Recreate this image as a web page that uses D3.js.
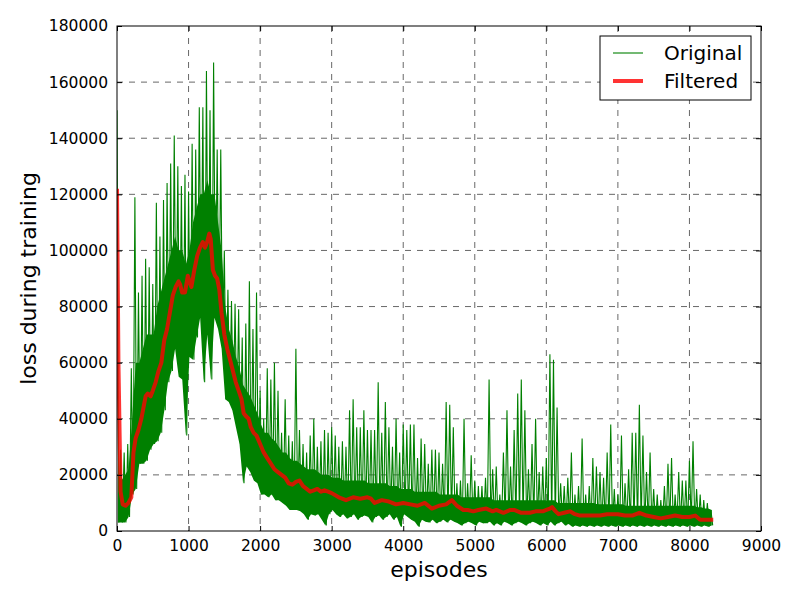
<!DOCTYPE html>
<html>
<head>
<meta charset="utf-8">
<script src="https://cdn.jsdelivr.net/npm/d3@7"></script>
<style>
body { margin: 0; background: #fff; }
text { font-family: "DejaVu Sans", sans-serif; }
</style>
</head>
<body>
<div id="chart"></div>
<script>
// episode bins, 50 episodes wide
var binStart = d3.range(0, 8301, 50);
// highest loss inside each bin (thousands)
var origHigh = [150, 29, 28, 31, 58, 119, 85, 91, 97, 94, 88, 117, 105, 118, 124, 131, 141, 130, 123, 127,
    121, 138, 136, 151, 151, 164, 150, 167, 136, 136, 100, 86, 82, 81, 79, 69, 74, 89, 72, 85,
    50, 40, 58, 54, 60, 50, 35, 47, 34, 32, 65, 36, 31, 28, 34, 40, 30, 32, 36, 35,
    37, 34, 30, 32, 30, 43, 47, 37, 37, 43, 36, 36, 36, 53, 35, 46, 37, 30, 40, 28,
    38, 36, 38, 38, 26, 33, 31, 24, 29, 29, 28, 24, 46, 45, 37, 17, 18, 40, 17, 27,
    18, 16, 16, 19, 54, 22, 23, 13, 28, 43, 23, 36, 49, 54, 43, 22, 31, 40, 21, 23,
    26, 63, 61, 44, 17, 16, 19, 28, 13, 16, 33, 13, 16, 26, 23, 21, 19, 28, 38, 15,
    13, 34, 17, 22, 35, 35, 45, 34, 21, 28, 15, 13, 11, 16, 24, 26, 13, 21, 18, 18,
    25, 32, 15, 13, 11, 10, 7.5];
// top of the dense part of each bin (thousands)
var origBand = [20, 18, 20, 22, 40, 60, 60, 65, 70, 70, 70, 80, 85, 90, 95, 100, 105, 100, 100, 95,
    100, 110, 115, 120, 120, 125, 120, 120, 110, 100, 80, 72, 68, 62, 58, 52, 50, 48, 45, 42,
    38, 35, 35, 33, 32, 30, 28, 28, 26, 25, 25, 24, 23, 22, 22, 22, 21, 20, 20, 20,
    19, 19, 19, 18, 18, 18, 18, 18, 18, 18, 17, 17, 17, 17, 17, 17, 16, 16, 16, 15,
    15, 15, 15, 14, 14, 14, 14, 14, 14, 14, 13, 13, 13, 13, 13, 13, 12, 12, 12, 12,
    12, 12, 12, 12, 12, 11, 11, 11, 11, 11, 11, 11, 11, 11, 11, 11, 11, 11, 11, 11,
    11, 11, 11, 10, 10, 10, 10, 10, 10, 10, 10, 10, 10, 10, 9.5, 9.5, 9.5, 9.5, 9.5, 9.5,
    9.5, 9.5, 9, 9, 9, 9, 9, 9, 9, 9, 9, 9, 9, 9, 9, 9, 9, 9, 9, 9,
    9, 9, 8.5, 8.5, 8, 8, 7.5];
// lowest loss inside each bin (thousands)
var origLow = [3, 3, 3, 5, 13, 15, 24, 24, 25, 29, 31, 32, 35, 43, 53, 57, 65, 55, 54, 34,
    62, 61, 69, 76, 53, 70, 54, 76, 72, 65, 47, 46, 43, 37, 31, 17, 23, 21, 18, 17,
    13, 13, 12, 13, 11, 11, 10, 9, 7.5, 7.5, 7.5, 7, 6, 4, 6, 5.5, 6, 4, 2, 6,
    7.5, 6, 5, 6, 4.5, 5, 6, 4, 5, 5.5, 5, 3, 5, 5.5, 4, 5, 6, 4, 5, 1.5,
    6, 5, 4, 3.3, 1.5, 4, 3.3, 3, 4, 2.8, 3.3, 4, 3, 4, 3.3, 2.8, 2, 2.8, 3.3, 2.8,
    2, 3.3, 2.8, 2.8, 3.3, 2, 2.8, 2, 3.3, 2.8, 2, 2.8, 3.3, 2.8, 2, 2.8, 3.3, 2.8, 2, 2.8,
    2, 3.3, 2, 2.8, 3.3, 2, 2.5, 1.5, 2, 1.5, 2, 1.5, 2, 1.5, 2, 1.5, 2, 1.5, 2, 1.5,
    2, 1.5, 2, 1.5, 2, 1.5, 2, 1.5, 2, 1.5, 2, 1.5, 2, 1.5, 2, 1.5, 2, 1.5, 2, 1.5,
    2, 1.5, 2, 1.5, 2, 1.5, 2];
// filtered curve
var filtEp = [0, 20, 50, 80, 120, 160, 200, 230, 260, 300, 340, 370, 400, 430, 470, 500, 540, 580, 620, 660,
    700, 740, 780, 820, 860, 880, 910, 950, 990, 1010, 1040, 1080, 1120, 1160, 1200, 1230, 1260, 1290, 1310, 1340,
    1370, 1400, 1430, 1460, 1500, 1540, 1580, 1620, 1660, 1700, 1740, 1770, 1800, 1840, 1870, 1910, 1950, 2000, 2050, 2100,
    2150, 2200, 2250, 2300, 2350, 2400, 2450, 2500, 2550, 2600, 2650, 2700, 2750, 2800, 2850, 2900, 2950, 3000, 3100, 3200,
    3300, 3400, 3500, 3550, 3600, 3700, 3800, 3900, 4000, 4100, 4200, 4300, 4400, 4500, 4600, 4680, 4750, 4840, 4900, 4980,
    5050, 5160, 5250, 5300, 5400, 5500, 5550, 5650, 5770, 5850, 5950, 6000, 6050, 6080, 6130, 6170, 6250, 6330, 6400, 6470,
    6550, 6650, 6750, 6850, 7000, 7100, 7200, 7300, 7400, 7500, 7600, 7700, 7800, 7900, 8000, 8080, 8150, 8250, 8333];
var filtVal = [122, 60, 14, 9.5, 9, 10, 12, 28, 33, 36, 40, 44, 48, 49, 48, 50, 53, 57, 60, 68,
    72, 78, 84, 87, 89, 88, 85, 85, 91, 89, 87, 93, 98, 101, 103, 101, 103, 106, 104, 93,
    91, 90, 86, 78, 70, 65, 61, 57, 53, 50, 47, 42, 41, 40, 37, 35, 34, 31, 28, 26,
    24, 22, 21, 20, 19, 17, 16.5, 17.5, 18, 16, 15, 14, 14.5, 15, 14, 14.5, 14, 13.5, 12, 11,
    12, 11.5, 12, 11.5, 10, 11, 10.5, 9.5, 10, 9.5, 9, 10, 8, 9, 9.5, 11, 9, 7.5, 7.5, 7,
    7.5, 8, 7, 7.5, 6.5, 7.5, 7.5, 6.5, 6.5, 7, 7, 7.5, 8, 8.5, 7, 6, 6.5, 7, 6, 5.5,
    5.5, 5.5, 5.5, 6, 6, 5.5, 5.5, 6.5, 5.5, 5, 4.5, 5, 5.5, 5, 5, 5.5, 4, 4, 4];
var xTicks = d3.range(0, 9001, 1000);
var yTicks = d3.range(0, 180001, 20000);

var W = 800, H = 600;
var margin = { left: 117, top: 26, right: 39, bottom: 69 };
var iw = W - margin.left - margin.right, ih = H - margin.top - margin.bottom;

var svg = d3.select('#chart').append('svg').attr('width', W).attr('height', H);
var g = svg.append('g').attr('transform', 'translate(' + margin.left + ',' + margin.top + ')');

var x = d3.scaleLinear().domain([0, 9000]).range([0, iw]);
var y = d3.scaleLinear().domain([0, 180000]).range([ih, 0]);

g.append('defs').append('clipPath').attr('id', 'clip')
    .append('rect').attr('width', iw).attr('height', ih);

// grid
g.append('g').selectAll('line').data(xTicks.slice(1, -1)).enter().append('line')
    .attr('x1', x).attr('x2', x).attr('y1', 0).attr('y2', ih)
    .style('stroke', '#000').style('stroke-dasharray', '6,6').style('stroke-width', 0.6);
g.append('g').selectAll('line').data(yTicks.slice(1, -1)).enter().append('line')
    .attr('y1', y).attr('y2', y).attr('x1', 0).attr('x2', iw)
    .style('stroke', '#000').style('stroke-dasharray', '6,6').style('stroke-width', 0.6);

// original series: dense part as an area, then max and min of each bin as a line
var bins = binStart.map(function (e, i) {
    return { e: Math.min(e + 12, 8333), hi: origHigh[i] * 1000, band: origBand[i] * 1000, lo: origLow[i] * 1000 };
});
var orig = [];
binStart.forEach(function (e, i) {
    orig.push([e, origHigh[i] * 1000]);
    orig.push([Math.min(e + 25, 8333), origLow[i] * 1000]);
});
var line = d3.line().x(function (d) { return x(d[0]); }).y(function (d) { return y(d[1]); });
var area = d3.area().x(function (d) { return x(d.e); })
    .y0(function (d) { return y(d.lo); }).y1(function (d) { return y(d.band); });

var plot = g.append('g').attr('clip-path', 'url(#clip)');
plot.append('path').datum(bins).attr('d', area).style('fill', 'green');
plot.append('path').datum(orig).attr('d', line)
    .style('fill', 'none').style('stroke', 'green').style('stroke-width', 1.1);
plot.append('path').datum(filtEp.map(function (e, i) { return [e, filtVal[i] * 1000]; })).attr('d', line)
    .style('fill', 'none').style('stroke', 'red').style('stroke-opacity', 0.8)
    .style('stroke-width', 4).style('stroke-linejoin', 'round');

// axes, ticks inward on all sides
var ax = [
    { a: d3.axisBottom(x).tickValues(xTicks).tickFormat(d3.format('d')), t: 'translate(0,' + ih + ')' },
    { a: d3.axisTop(x).tickValues(xTicks).tickFormat(''), t: null },
    { a: d3.axisLeft(y).tickValues(yTicks).tickFormat(d3.format('d')), t: null },
    { a: d3.axisRight(y).tickValues(yTicks).tickFormat(''), t: 'translate(' + iw + ',0)' }
];
ax.forEach(function (o) {
    var s = g.append('g');
    if (o.t) s.attr('transform', o.t);
    s.call(o.a.tickSizeInner(-5).tickSizeOuter(0).tickPadding(9));
    s.select('.domain').remove();
    s.selectAll('.tick line').style('stroke', '#000');
    s.selectAll('text').style('font-size', '15.5px').style('fill', '#000').style('font-family', 'DejaVu Sans');
});
g.append('rect').attr('width', iw).attr('height', ih)
    .style('fill', 'none').style('stroke', '#000').style('stroke-width', 1);

svg.append('text').attr('x', margin.left + iw / 2).attr('y', 577).attr('text-anchor', 'middle')
    .style('font-size', '22px').text('episodes');
svg.append('text').attr('transform', 'translate(36,' + (margin.top + ih / 2) + ') rotate(-90)')
    .attr('text-anchor', 'middle').style('font-size', '22px').text('loss during training');

// legend
var lg = svg.append('g').attr('transform', 'translate(600,36)');
lg.append('rect').attr('width', 151).attr('height', 64)
    .style('fill', '#fff').style('stroke', '#000').style('stroke-width', 1);
var items = [{ name: 'Original', c: 'green', w: 1.1, o: 1 }, { name: 'Filtered', c: 'red', w: 4, o: 0.8 }];
items.forEach(function (it, i) {
    var yy = 17 + i * 28;
    lg.append('line').attr('x1', 13).attr('x2', 43).attr('y1', yy).attr('y2', yy)
        .style('stroke', it.c).style('stroke-width', it.w).style('stroke-opacity', it.o);
    lg.append('text').attr('x', 64).attr('y', yy + 7).style('font-size', '20px').text(it.name);
});
</script>
</body>
</html>
